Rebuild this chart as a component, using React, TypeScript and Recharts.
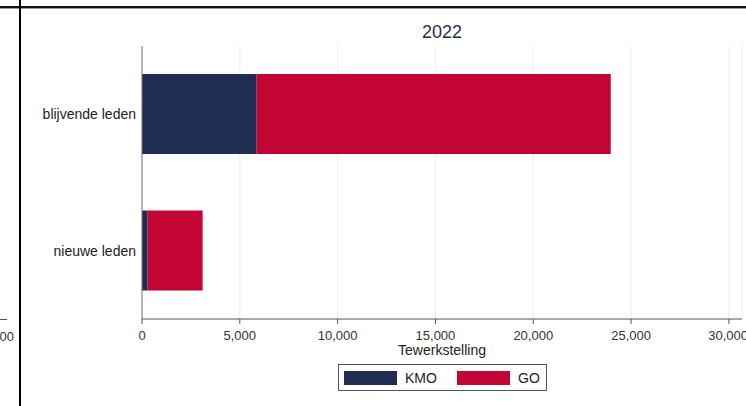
import { BarChart, Bar, XAxis, YAxis, CartesianGrid } from "recharts";

const categories = ["blijvende leden", "nieuwe leden"];
const kmo = [5860, 290];
const go = [18100, 2810];
const xTicks = [0, 5000, 10000, 15000, 20000, 25000, 30000];

const data = categories.map((c, i) => ({ cat: c, KMO: kmo[i], GO: go[i] }));

const NAVY = "#1f2d52";
const RED = "#c30534";
const FONT = "'Liberation Sans', Arial, sans-serif";

const fmt = (v: number) => v.toLocaleString("en-US");

function LegendBox() {
  const items = [
    { name: "KMO", color: NAVY, x: 5 },
    { name: "GO", color: RED, x: 118 },
  ];
  return (
    <div
      style={{
        position: "absolute",
        left: 338,
        top: 364,
        border: "1px solid #555",
        height: 27,
        width: 209,
        boxSizing: "border-box",
        fontSize: 14,
        color: "#222",
        background: "#fff",
      }}
    >
      {items.map((it) => (
        <div
          key={it.name}
          style={{ position: "absolute", left: it.x, top: 0, height: 25, display: "flex", alignItems: "center" }}
        >
          <span style={{ width: 53, height: 14, background: it.color, display: "inline-block", marginRight: 8 }} />
          <span>{it.name}</span>
        </div>
      ))}
    </div>
  );
}

export default function App() {
  return (
    <div
      style={{
        position: "absolute",
        left: 0,
        top: 0,
        width: 746,
        height: 406,
        overflow: "hidden",
        background: "#fff",
        fontFamily: FONT,
      }}
    >
      {/* frame pieces of neighbouring panels */}
      <div style={{ position: "absolute", left: 0, top: 6, width: 746, height: 2, background: "#111" }} />
      <div style={{ position: "absolute", left: 0, top: 8, width: 746, height: 1, background: "#999" }} />
      <div style={{ position: "absolute", left: 19, top: 0, width: 2, height: 406, background: "#000" }} />
      <div style={{ position: "absolute", left: 0, top: 319, width: 7, height: 1, background: "#555" }} />
      <div
        style={{
          position: "absolute",
          right: 732,
          top: 329,
          fontSize: 13,
          color: "#333",
          whiteSpace: "nowrap",
        }}
      >
        30,000
      </div>

      <div
        style={{
          position: "absolute",
          left: 342,
          width: 200,
          top: 22,
          textAlign: "center",
          fontSize: 18,
          color: NAVY,
        }}
      >
        2022
      </div>

      <div style={{ position: "absolute", left: 0, top: 0 }}>
        <BarChart
          width={746}
          height={406}
          data={data}
          layout="vertical"
          barSize={80}
          margin={{ top: 46, right: 4, bottom: 0, left: 0 }}
        >
          <CartesianGrid horizontal={false} stroke="#e8eeee" />
          <XAxis
            type="number"
            domain={[0, 30670]}
            ticks={xTicks}
            tickFormatter={fmt}
            allowDataOverflow
            stroke="#555"
            tickSize={5}
            tickMargin={7}
            height={87}
            tick={{ fill: "#333", fontSize: 13, fontFamily: FONT }}
          />
          <YAxis
            type="category"
            dataKey="cat"
            width={142}
            stroke="#777"
            tickLine={false}
            tickSize={0}
            tickMargin={6}
            tick={{ fill: "#222", fontSize: 14, fontFamily: FONT }}
          />
          <Bar dataKey="KMO" stackId="a" fill={NAVY} isAnimationActive={false} />
          <Bar dataKey="GO" stackId="a" fill={RED} isAnimationActive={false} />
        </BarChart>
      </div>

      <div
        style={{
          position: "absolute",
          left: 342,
          width: 200,
          top: 342,
          textAlign: "center",
          fontSize: 14,
          color: "#222",
        }}
      >
        Tewerkstelling
      </div>
      <LegendBox />
    </div>
  );
}
